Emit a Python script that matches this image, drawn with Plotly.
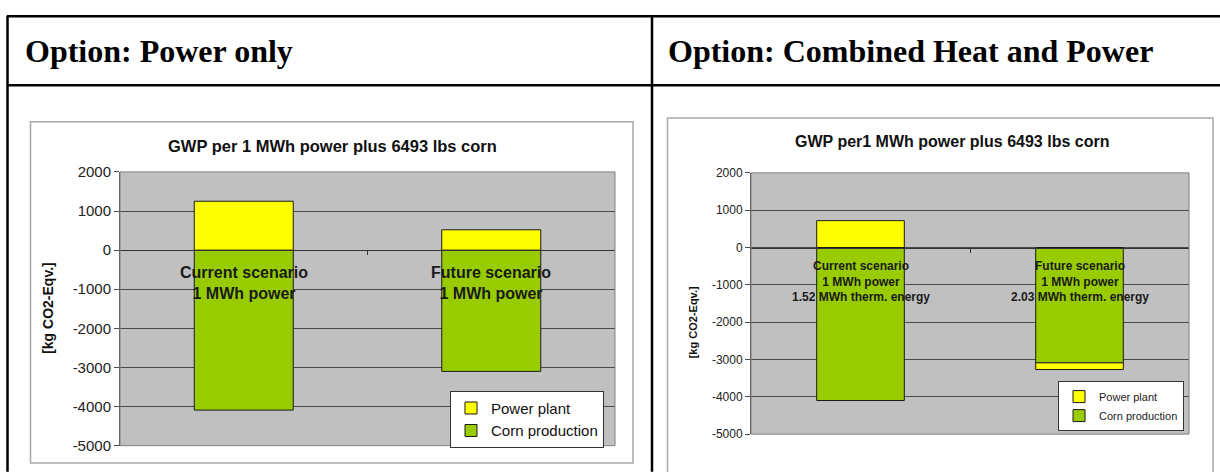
import plotly.graph_objects as go

# ---- data -------------------------------------------------------------
scenarios = ["Current scenario", "Future scenario"]

# Power only option
po_power_plant = [1250, 520]
po_corn = [-4090, -3100]
po_labels = ["Current scenario<br>1 MWh power", "Future scenario<br>1 MWh power"]

# Combined heat and power option
chp_power_plant = [720, -180]
chp_corn = [-4100, -3090]
chp_labels = [
    "Current scenario<br>1 MWh power<br>1.52 MWh therm. energy",
    "Future scenario<br>1 MWh power<br>2.03 MWh therm. energy",
]

y_ticks = [2000, 1000, 0, -1000, -2000, -3000, -4000, -5000]
y_tick_text = [str(v) for v in y_ticks]
y_range = [-5000, 2000]

headers = ["Option: Power only", "Option: Combined Heat and Power"]
chart_titles = ["GWP per 1 MWh power plus 6493 lbs corn",
                "GWP per1 MWh power plus 6493 lbs corn"]
y_title = "[kg CO2-Eqv.]"

# ---- layout helpers ---------------------------------------------------
W, H = 1220, 472


def fx(px):
    return px / W


def fy(py):
    return 1 - py / H


YELLOW = "#ffff00"
GREEN = "#99cc00"
SANS = "Liberation Sans, Arial, sans-serif"
SERIF = "Liberation Serif, Times New Roman, serif"

left_x = [fx(120), fx(615)]
left_y = [fy(453), fy(169)]
right_x = [fx(751), fx(1189)]
right_y = [fy(441), fy(170)]


def zero_pos(dom):
    return dom[0] + (0 - y_range[0]) / (y_range[1] - y_range[0]) * (dom[1] - dom[0])


fig = go.Figure()

# Power only bars (corn first so it sits next to zero on the negative side)
fig.add_trace(go.Bar(x=scenarios, y=po_corn, name="Corn production",
                     marker=dict(color=GREEN, line=dict(color="#1a1a1a", width=1)),
                     xaxis="x", yaxis="y", legend="legend", width=0.4))
fig.add_trace(go.Bar(x=scenarios, y=po_power_plant, name="Power plant",
                     marker=dict(color=YELLOW, line=dict(color="#1a1a1a", width=1)),
                     xaxis="x", yaxis="y", legend="legend", width=0.4))

# CHP bars
fig.add_trace(go.Bar(x=scenarios, y=chp_corn, name="Corn production",
                     marker=dict(color=GREEN, line=dict(color="#1a1a1a", width=1)),
                     xaxis="x2", yaxis="y2", legend="legend2", width=0.4))
fig.add_trace(go.Bar(x=scenarios, y=chp_power_plant, name="Power plant",
                     marker=dict(color=YELLOW, line=dict(color="#1a1a1a", width=1)),
                     xaxis="x2", yaxis="y2", legend="legend2", width=0.4))


def yaxis_cfg(dom, anchor, size):
    return dict(domain=dom, anchor=anchor, range=y_range, tickmode="array",
                tickvals=y_ticks, ticktext=y_tick_text, showgrid=True,
                gridcolor="#4a4a4a", gridwidth=1, zeroline=False,
                showline=True, linecolor="#4a4a4a", linewidth=1,
                ticks="outside", ticklen=5, tickcolor="#4a4a4a",
                tickfont=dict(family=SANS, size=size, color="#222222"),
                fixedrange=True)


def xaxis_cfg(dom, ydom):
    return dict(domain=dom, anchor="free", position=zero_pos(ydom),
                range=[-0.5, 1.5], tickmode="array", tickvals=[0.5], ticktext=[""],
                showline=True, linecolor="#333333", linewidth=1,
                ticks="outside", ticklen=4, tickcolor="#333333",
                showgrid=False, zeroline=False, fixedrange=True)


shapes = []
# table grid
line_k = dict(color="black", width=2.5)
shapes += [
    dict(type="line", xref="paper", yref="paper", x0=fx(7), x1=fx(1222), y0=fy(7.5), y1=fy(7.5), line=line_k),
    dict(type="line", xref="paper", yref="paper", x0=fx(7), x1=fx(1222), y0=fy(79), y1=fy(79), line=line_k),
    dict(type="line", xref="paper", yref="paper", x0=fx(7.5), x1=fx(7.5), y0=fy(7), y1=fy(480), line=line_k),
    dict(type="line", xref="paper", yref="paper", x0=fx(652), x1=fx(652), y0=fy(7), y1=fy(480), line=line_k),
]
# chart area frames
shapes += [
    dict(type="rect", xref="paper", yref="paper", x0=fx(30.5), x1=fx(633), y0=fy(117), y1=fy(471),
         line=dict(color="#a8a8a8", width=1.5), layer="below"),
    dict(type="rect", xref="paper", yref="paper", x0=fx(667.5), x1=fx(1213), y0=fy(113), y1=fy(490),
         line=dict(color="#a8a8a8", width=1.5), layer="below"),
]
# plot area borders
for xr, yr in (("x", "y"), ("x2", "y2")):
    shapes.append(dict(type="rect", xref=f"{xr} domain", yref=f"{yr} domain",
                       x0=0, x1=1, y0=0, y1=1, line=dict(color="#808080", width=1)))

annotations = []
# table headers
annotations.append(dict(text=headers[0], xref="paper", yref="paper", x=fx(23), y=fy(44),
                        xanchor="left", yanchor="middle", showarrow=False,
                        font=dict(family=SERIF, size=32, color="black", weight="bold")))
annotations.append(dict(text=headers[1], xref="paper", yref="paper", x=fx(666), y=fy(44),
                        xanchor="left", yanchor="middle", showarrow=False,
                        font=dict(family=SERIF, size=32, color="black", weight="bold")))
# chart titles
annotations.append(dict(text=chart_titles[0], xref="paper", yref="paper", x=fx(332), y=fy(142),
                        xanchor="center", yanchor="middle", showarrow=False,
                        font=dict(family=SANS, size=16.5, color="#111111", weight="bold")))
annotations.append(dict(text=chart_titles[1], xref="paper", yref="paper", x=fx(952), y=fy(137),
                        xanchor="center", yanchor="middle", showarrow=False,
                        font=dict(family=SANS, size=16, color="#111111", weight="bold")))
# y-axis titles
annotations.append(dict(text=y_title, xref="paper", yref="paper", x=fx(48), y=fy(310),
                        xanchor="center", yanchor="middle", textangle=-90, showarrow=False,
                        font=dict(family=SANS, size=14, color="#111111", weight="bold")))
annotations.append(dict(text=y_title, xref="paper", yref="paper", x=fx(693), y=fy(325),
                        xanchor="center", yanchor="middle", textangle=-90, showarrow=False,
                        font=dict(family=SANS, size=11, color="#111111", weight="bold")))
# category labels under the zero axis
for cat, lab in zip(scenarios, po_labels):
    annotations.append(dict(text=lab, xref="x", yref="y", x=cat, y=0, xanchor="center",
                            yanchor="top", yshift=-12, showarrow=False,
                            font=dict(family=SANS, size=16, color="#1a1a1a", weight="bold")))
for cat, lab in zip(scenarios, chp_labels):
    annotations.append(dict(text=lab, xref="x2", yref="y2", x=cat, y=0, xanchor="center",
                            yanchor="top", yshift=-9, showarrow=False,
                            font=dict(family=SANS, size=12, color="#1a1a1a", weight="bold")))

fig.update_layout(
    width=W, height=H, margin=dict(l=0, r=0, t=0, b=0),
    paper_bgcolor="white", plot_bgcolor="#c0c0c0",
    barmode="relative", showlegend=True,
    xaxis=xaxis_cfg(left_x, left_y), yaxis=yaxis_cfg(left_y, "x", 15),
    xaxis2=xaxis_cfg(right_x, right_y), yaxis2=yaxis_cfg(right_y, "x2", 12),
    legend=dict(x=fx(450), y=fy(396), xanchor="left", yanchor="top",
                traceorder="reversed", bgcolor="white", bordercolor="#333333", borderwidth=1,
                font=dict(family=SANS, size=15, color="#111111")),
    legend2=dict(x=fx(1058), y=fy(386), xanchor="left", yanchor="top",
                 traceorder="reversed", bgcolor="white", bordercolor="#333333", borderwidth=1,
                 font=dict(family=SANS, size=11, color="#222222")),
    shapes=shapes, annotations=annotations,
)

fig.write_html("out.html")
